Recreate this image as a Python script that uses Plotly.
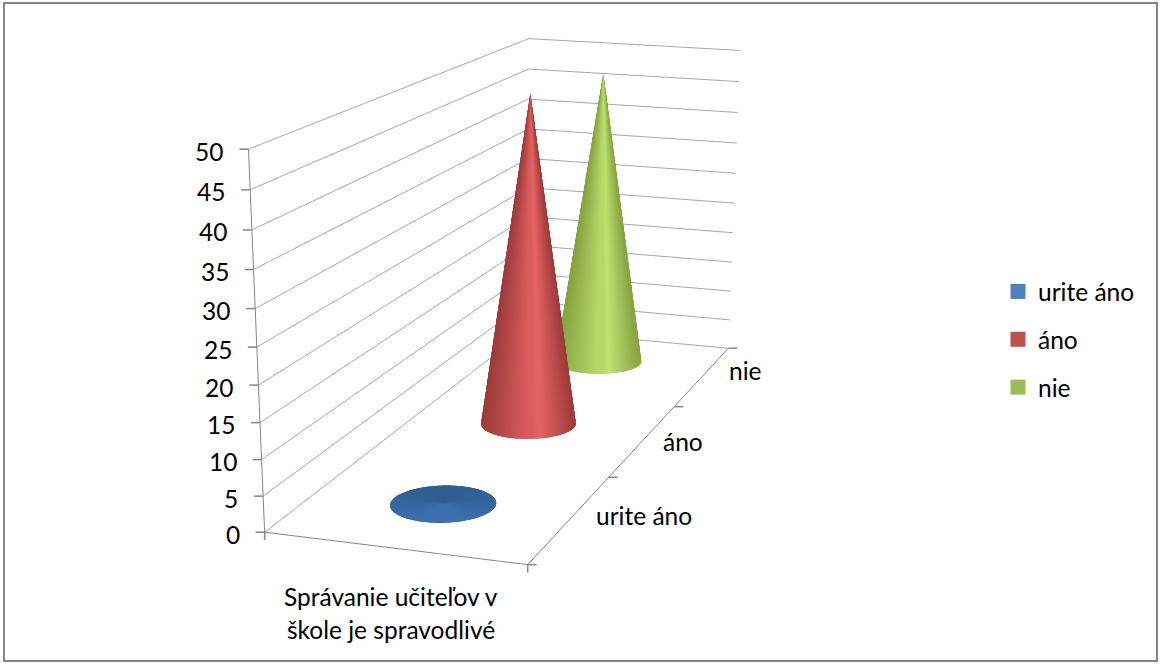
import numpy as np
import plotly.graph_objects as go

# ---- chart data ----
group_labels = ["Správanie učiteľov v", "škole je spravodlivé"]
series_names = ["urite áno", "áno", "nie"]
series_values = [0, 49.5, 47.2]
z_ticks = [0, 5, 10, 15, 20, 25, 30, 35, 40, 45, 50]

# ---- styles ----
legend_colors = ["#4f81bd", "#c0504d", "#9bbb59"]
series_bright = ["#3c70ae", "#e96464", "#bfe274"]
series_dark = ["#2f5e92", "#9c3c3b", "#86a33f"]
GRID, AXC = "#a6a6a6", "#868686"
W, H = 1161, 672
FONT = dict(family="Lato", size=24.5, color="black")

# ---- 3D frame of the chart: box corners (x, y, value) and where they land on the page ----
frame_world = np.array([[0,0,0],[0,0,50],[0,0,45],[0,0,40],[1,0,0],[1,1,0],[1,1,50],[1,1,45],[1,1,40],[1,1,10],
                        [0,1,50],[0,1,45],[0,1,40],[1,2/3,0],[1,1/3,0]], float)
frame_page = np.array([[260.5,531],[250,151],[251,191],[252,230],[527,568],[728,340],[739,50],[738,79],[737,110],[731,312],
                       [529,40],[529,68],[529,97],[675,400],[612,473]], float)
S = np.array([1, 1, 1/50, 1])
A = []
for (x, y, z), (u, v) in zip(frame_world, frame_page):
    q = np.array([x, y, z, 1])*S
    A.append(np.r_[q, 0, 0, 0, 0, -u*q])
    A.append(np.r_[0, 0, 0, 0, q, -v*q])
P = np.linalg.svd(np.array(A))[2][-1].reshape(3, 4)

def project(x, y, z):
    x, y, z = np.broadcast_arrays(np.asarray(x, float), np.asarray(y, float), np.asarray(z, float)/50)
    r = P@np.stack([x, y, z, np.ones_like(x)], 0)
    return r[0]/r[2], r[1]/r[2]

fig = go.Figure()
def seg(pts, color, width=1):
    xs, ys = [], []
    for a, b in pts:
        xs += [a[0], b[0], None]; ys += [a[1], b[1], None]
    fig.add_trace(go.Scatter(x=xs, y=ys, mode="lines", line=dict(color=color, width=width), hoverinfo="skip", showlegend=False))
def pt(x, y, z):
    u, v = project(x, y, z)
    return float(u), float(v)

seg([(pt(0,0,t), pt(0,1,t)) for t in z_ticks]+[(pt(0,1,t), pt(1,1,t)) for t in z_ticks], GRID)
seg([(pt(0,0,0), pt(0,0,50)), (pt(0,0,0), pt(1,0,0)), (pt(1,0,0), pt(1,1,0))], AXC)
ticks = []
for t in z_ticks:
    u, v = pt(0,0,t); ticks.append(((u-9, v), (u, v)))
for xv in [0, 1]:
    u, v = pt(xv,0,0); ticks.append(((u, v), (u, v+8)))
for k in range(4):
    u, v = pt(1,k/3,0); ticks.append(((u, v), (u+9, v)))
seg(ticks, AXC, 1.5)

def rgb(c): return np.array([int(c[i:i+2], 16) for i in (1, 3, 5)], float)
N = 120
OVER = 3
RX, RY = 0.197, 0.07
CX = [0.5, 0.485, 0.485]
CY = [1/6, 0.52, 0.86]
for k in [2, 1, 0]:
    yc, xc = CY[k], CX[k]
    th = np.linspace(0, 2*np.pi, N, endpoint=False)
    bu, bv = project(xc+RX*np.cos(th), yc+RY*np.sin(th), np.zeros(N))
    tu, tv = pt(xc, yc, series_values[k])
    lo, hi = bu.min(), bu.max()
    strips = []
    for m in range(N):
        idx = [(m+o) % N for o in range(OVER+1)]
        cu, cv = bu[idx].mean(), bv[idx].mean()
        if series_values[k] > 0:
            t = (cu-lo)/(hi-lo)
            peak = .6
            d = (t/peak if t < peak else (1-t)/(1-peak))
            s = np.clip(d, 0, 1)**1.1
        else:
            s = (cv-bv.min())/(bv.max()-bv.min())
        c = rgb(series_dark[k])*(1-s)+rgb(series_bright[k])*s
        strips.append((cv, list(bu[idx])+[tu, bu[idx[0]]], list(bv[idx])+[tv, bv[idx[0]]], "rgb(%d,%d,%d)" % tuple(c)))
    strips.sort(key=lambda a: a[0])
    for _, xs, ys, col in strips:
        fig.add_trace(go.Scatter(x=xs, y=ys, mode="none", fill="toself", fillcolor=col,
                                 hoverinfo="skip", showlegend=False))

for k, name in enumerate(series_names):
    fig.add_trace(go.Scatter(x=[None], y=[None], mode="markers", name=name, legendgroup=name,
                             marker=dict(symbol="square", size=15, color=legend_colors[k], line=dict(width=0))))

anns = []
for t in z_ticks:
    u, v = pt(0,0,t)
    anns.append(dict(x=u-23, y=v+2, text=str(t), showarrow=False, xanchor="right", yanchor="middle", font=FONT))
label_shift = [(24, -3), (18, 1), (24, -6)]
for k, name in enumerate(series_names):
    u, v = pt(1,(k+.5)/3,0)
    anns.append(dict(x=u+label_shift[k][0], y=v+label_shift[k][1], text=name, showarrow=False, xanchor="left", yanchor="middle", font=FONT))
u, v = pt(.5,0,0)
anns.append(dict(x=u-3, y=v+48, text=group_labels[0], showarrow=False, yanchor="middle", font=FONT))
anns.append(dict(x=u-3, y=v+81, text=group_labels[1], showarrow=False, yanchor="middle", font=FONT))

fig.update_layout(
    width=W, height=H, margin=dict(l=0, r=0, t=0, b=0), paper_bgcolor="white", plot_bgcolor="white",
    xaxis=dict(visible=False, range=[0, W], domain=[0, 1], fixedrange=True),
    yaxis=dict(visible=False, range=[H, 0], domain=[0, 1], fixedrange=True),
    showlegend=True,
    legend=dict(x=998/W, y=1-269/H, xanchor="left", yanchor="top", font=FONT, tracegroupgap=13, itemsizing="trace",
                bgcolor="rgba(0,0,0,0)"),
    annotations=anns,
    shapes=[dict(type="rect", xref="paper", yref="paper", x0=4/W, x1=1157/W, y0=1-661/H, y1=1-3/H,
                 line=dict(color="#868686", width=2))],
)
fig.write_html("out.html", config=dict(displayModeBar=False),
               post_script="document.body.style.margin='0';document.body.style.overflow='hidden';")
